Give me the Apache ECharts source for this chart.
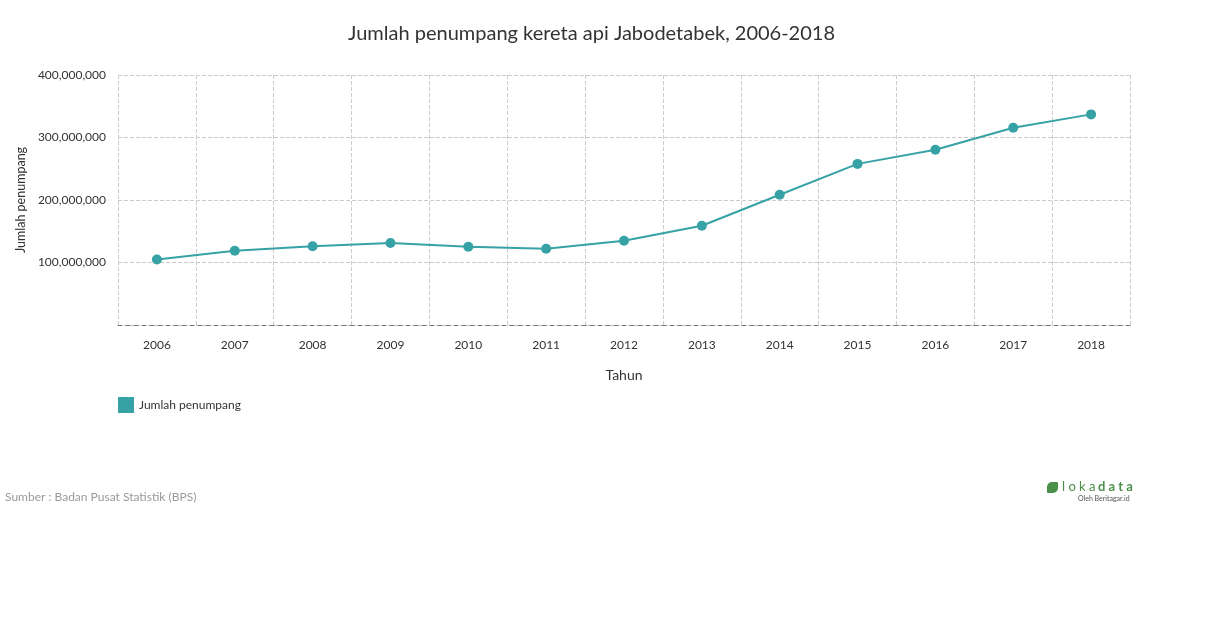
<!DOCTYPE html>
<html><head><meta charset="utf-8">
<script src="https://cdn.jsdelivr.net/npm/echarts@6/dist/echarts.min.js"></script>
<style>html,body{margin:0;padding:0;background:#fff}#c{width:1210px;height:628px}</style>
</head><body><div id="c"></div>
<script>
const years = ['2006','2007','2008','2009','2010','2011','2012','2013','2014','2015','2016','2017','2018'];
const passengers = [104800000,118800000,126000000,131200000,125200000,122000000,134800000,158800000,208400000,257800000,280400000,315600000,337000000];
const seriesName = 'Jumlah penumpang';
const titleText = 'Jumlah penumpang kereta api Jabodetabek, 2006-2018';
const sourceText = 'Sumber : Badan Pusat Statistik (BPS)';
const teal = '#37a2a5';
const font = 'Lato';
const chart = echarts.init(document.getElementById('c'));
chart.setOption({
  animation:false,
  textStyle:{fontFamily:font},
  title:{text:titleText,left:343,top:19,textStyle:{fontFamily:font,fontSize:20,fontWeight:'normal',color:'#333'}},
  legend:{left:113,top:392,itemWidth:16,itemHeight:16,itemGap:10,icon:'rect',textStyle:{fontFamily:font,fontSize:12,color:'#333'},data:[seriesName]},
  grid:{left:118,right:80,top:75,bottom:303,containLabel:false},
  xAxis:{type:'category',data:years,boundaryGap:true,
    name:'Tahun',nameLocation:'middle',nameGap:43,nameTextStyle:{fontFamily:font,fontSize:14,color:'#333'},
    axisLine:{show:true,lineStyle:{color:'#777',type:[4,4],width:1}},
    axisTick:{show:false},
    axisLabel:{fontFamily:font,fontSize:12,color:'#333',margin:14},
    splitLine:{show:true,lineStyle:{color:'#ccc',type:'dashed'}}},
  yAxis:{type:'value',min:0,max:400000000,interval:100000000,
    name:'Jumlah penumpang',nameLocation:'middle',nameGap:88,nameRotate:90,nameTextStyle:{fontFamily:font,fontSize:12.5,color:'#333'},
    axisLine:{show:false},axisTick:{show:false},
    axisLabel:{fontFamily:font,fontSize:12,color:'#333',margin:12,showMinLabel:false,
      formatter:v=>v===0?'':v.toLocaleString('en-US')},
    splitLine:{show:true,lineStyle:{color:'#ccc',type:'dashed'}}},
  series:[{name:seriesName,type:'line',data:passengers,color:teal,
    lineStyle:{width:2,color:teal},symbol:'circle',symbolSize:10,itemStyle:{color:teal}}],
  graphic:[
    {type:'text',left:5,top:491,style:{text:sourceText,fontFamily:font,fontSize:12,fill:'#999'}},
    {type:'rect',shape:{x:1047,y:482,width:11,height:11,r:[5,1,5,1]},style:{fill:'#4a8f4a'}},
    {type:'text',x:1062,y:480,style:{text:'l o k a',fontFamily:font,fontSize:13,fill:'#4a8f4a'}},
    {type:'text',x:1098,y:480,style:{text:'d a t a',fontFamily:font,fontSize:13,fontWeight:'bold',fill:'#4a8f4a'}},
    {type:'text',x:1078,y:495,style:{text:'Oleh Beritagar.id',fontFamily:font,fontSize:7,fill:'#555'}}
  ]
});
</script></body></html>
